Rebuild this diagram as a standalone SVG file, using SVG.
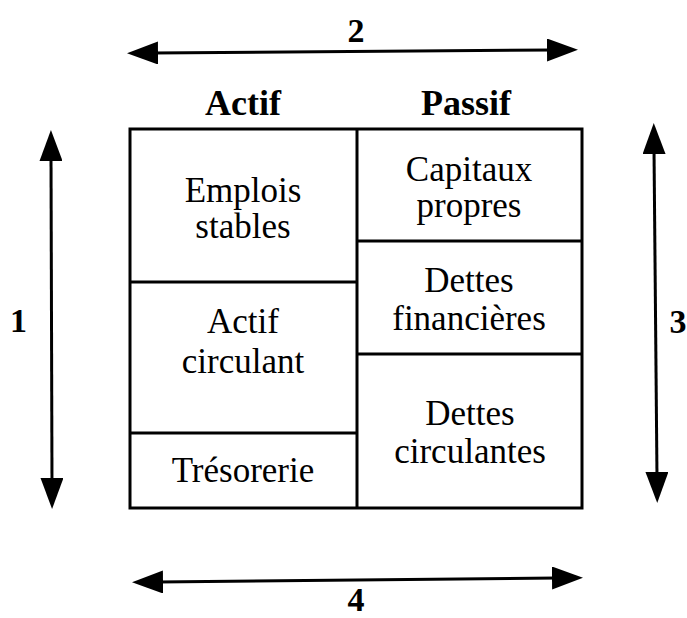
<svg xmlns="http://www.w3.org/2000/svg" width="687" height="618" viewBox="0 0 687 618">
<style>
.box{fill:#fff;stroke:#000;stroke-width:3}
.div{stroke:#000;stroke-width:3;fill:none}
.t{font-family:"Liberation Serif","Times New Roman",serif;font-size:35px;fill:#000;text-anchor:middle}
.h{font-family:"Liberation Serif","Times New Roman",serif;font-size:36px;font-weight:bold;fill:#000;text-anchor:middle}
.n{font-family:"Liberation Serif","Times New Roman",serif;font-size:34px;font-weight:bold;fill:#000;text-anchor:middle}
.arr{stroke:#000;stroke-width:3;fill:none;marker-start:url(#ah);marker-end:url(#ah)}
</style>
<defs>
<marker id="ah" viewBox="0 0 31 23" refX="5" refY="11.5" markerWidth="31" markerHeight="23" markerUnits="userSpaceOnUse" orient="auto-start-reverse">
<path d="M0,0 L31,11.5 L0,23 z" fill="#000"/>
</marker>
</defs>
<rect width="687" height="618" fill="#fff"/>
<g id="headers">
<text class="h" x="243" y="115">Actif</text>
<text class="h" x="466" y="115">Passif</text>
</g>
<g id="bilan">
<rect class="box" x="130" y="129" width="452" height="379"/>
<line class="div" x1="357" y1="129" x2="357" y2="508"/>
</g>
<g id="emplois-stables">
<line class="div" x1="130" y1="282" x2="357" y2="282"/>
<text class="t" x="243" y="202">Emplois</text>
<text class="t" x="243" y="238">stables</text>
</g>
<g id="actif-circulant">
<line class="div" x1="130" y1="433" x2="357" y2="433"/>
<text class="t" x="243" y="333">Actif</text>
<text class="t" x="243" y="373">circulant</text>
</g>
<g id="tresorerie">
<text class="t" x="243" y="482">Trésorerie</text>
</g>
<g id="capitaux-propres">
<line class="div" x1="357" y1="241" x2="582" y2="241"/>
<text class="t" x="469" y="181">Capitaux</text>
<text class="t" x="469" y="217">propres</text>
</g>
<g id="dettes-financieres">
<line class="div" x1="357" y1="354" x2="582" y2="354"/>
<text class="t" x="469" y="292">Dettes</text>
<text class="t" x="469" y="330">financières</text>
</g>
<g id="dettes-circulantes">
<text class="t" x="470" y="425">Dettes</text>
<text class="t" x="470" y="463">circulantes</text>
</g>
<g id="connectors">
<line class="arr" x1="51" y1="156" x2="52" y2="483"/>
<line class="arr" x1="654" y1="149" x2="657" y2="477"/>
<line class="arr" x1="153" y1="53" x2="552" y2="50"/>
<line class="arr" x1="158" y1="582" x2="557" y2="578"/>
</g>
<g id="labels">
<text class="n" x="18.5" y="332">1</text>
<text class="n" x="356" y="42">2</text>
<text class="n" x="678" y="333">3</text>
<text class="n" x="356" y="611">4</text>
</g>
</svg>
